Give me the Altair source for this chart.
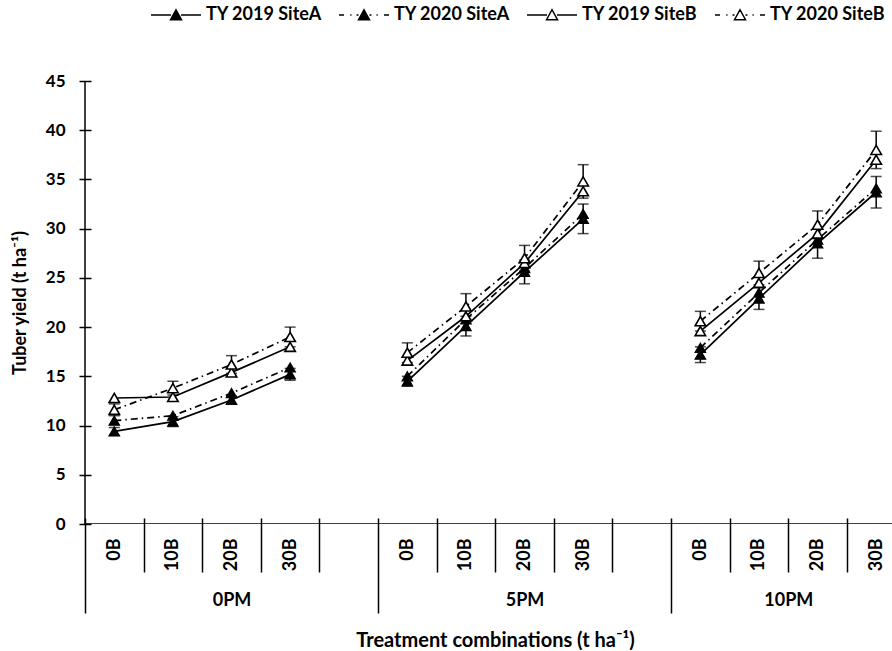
import altair as alt
import pandas as pd

FONT = "Lato"

series_names = ["TY 2019 SiteA", "TY 2020 SiteA", "TY 2019 SiteB", "TY 2020 SiteB"]
pm_levels = ["0PM", "5PM", "10PM"]
b_levels = ["0B", "10B", "20B", "30B"]

# Mean tuber yield (t/ha): 0PM (0B..30B), 5PM (0B..30B), 10PM (0B..30B)
ty2019_site_a = [9.4, 10.4, 12.6, 15.2, 14.5, 20.1, 25.6, 31.0, 17.2, 22.9, 28.5, 33.7]
ty2020_site_a = [10.5, 11.0, 13.3, 15.9, 15.0, 20.8, 26.0, 31.5, 17.9, 23.5, 28.9, 34.1]
ty2019_site_b = [12.8, 12.9, 15.4, 18.0, 16.6, 21.1, 26.5, 33.8, 19.6, 24.5, 29.5, 37.0]
ty2020_site_b = [11.6, 13.8, 16.2, 19.0, 17.4, 22.1, 27.0, 34.8, 20.6, 25.5, 30.4, 38.0]

# Error bar half-widths (t/ha), drawn for the outer two series
err_2019_site_a = [0.4, 0.5, 0.4, 0.6, 0.5, 1.0, 1.2, 1.5, 0.8, 1.1, 1.5, 1.6]
err_2020_site_b = [0.6, 0.7, 0.9, 1.0, 1.0, 1.3, 1.3, 1.7, 1.0, 1.2, 1.4, 1.9]

series_values = [ty2019_site_a, ty2020_site_a, ty2019_site_b, ty2020_site_b]
series_errors = [err_2019_site_a, None, None, err_2020_site_b]
series_filled = [True, True, False, False]
series_dashed = [False, True, False, True]

DASHDOT = [7, 4, 1.5, 4]

# Each P level gets one slot per B level plus an empty separating slot
slots_per_group = len(b_levels) + 1
n_b = len(b_levels)

rows = []
for name, vals, errs, filled, dashed in zip(series_names, series_values, series_errors,
                                             series_filled, series_dashed):
    for i, v in enumerate(vals):
        g, b = divmod(i, n_b)
        e = errs[i] if errs else None
        rows.append({
            "series": name,
            "pm": pm_levels[g],
            "b": b_levels[b],
            "slot": g * slots_per_group + b + 0.5,
            "value": v,
            "filled": filled,
            "dashed": dashed,
            "lo": v - e if e is not None else None,
            "hi": v + e if e is not None else None,
        })
df = pd.DataFrame(rows)

# Category-axis geometry (in slot units)
last_slot = len(pm_levels) * slots_per_group - 1
group_edges = [g * slots_per_group for g in range(len(pm_levels))]
inner_ticks = [g * slots_per_group + k for g in range(len(pm_levels))
               for k in range(1, slots_per_group) if g * slots_per_group + k < last_slot]
b_label_pos = [g * slots_per_group + b + 0.5 for g in range(len(pm_levels)) for b in range(n_b)]
pm_label_pos = [(g * slots_per_group + min((g + 1) * slots_per_group, last_slot)) / 2
                for g in range(len(pm_levels))]

b_expr = "[" + ",".join(f"'{s}'" for s in b_levels) + f",''][floor(datum.value) % {slots_per_group}]"
pm_expr = "''"
for g in range(len(pm_levels)):
    pm_expr = f"datum.value >= {g * slots_per_group} ? '{pm_levels[g]}' : ({pm_expr})"

xs = alt.Scale(domain=[0, 13.77], nice=False, zero=False)
ys = alt.Scale(domain=[0, 45], nice=False, zero=True)

common_x = dict(orient="bottom", domain=False, grid=False, labelFont=FONT,
                labelFontWeight="bold", labelFontSize=18, labelColor="black",
                tickColor="black", tickWidth=1.5, labelOverlap=False,
                labelFlush=False, labelBound=False)

ax_inner = alt.Axis(values=inner_ticks, labels=False, ticks=True, tickSize=54,
                    offset=-6, title=None, **common_x)
ax_outer = alt.Axis(values=group_edges, labels=False, ticks=True, tickSize=95,
                    offset=-6, title=None, **common_x)
ax_b = alt.Axis(values=b_label_pos, ticks=False, tickSize=0, labelExpr=b_expr,
                labelAngle=270, labelAlign="right", labelBaseline="middle",
                labelPadding=14, title=None, **common_x)
ax_pm = alt.Axis(values=pm_label_pos, ticks=False, tickSize=0, labelExpr=pm_expr,
                 labelAngle=0, labelAlign="center", labelBaseline="middle",
                 labelPadding=76, title="Treatment combinations (t ha⁻¹)",
                 titleFont=FONT, titleFontSize=20, titleFontWeight="bold",
                 titleColor="black", titleX=410, titleY=116,
                 titleBaseline="middle", titleAlign="center",
                 **common_x)

y_axis = alt.Axis(values=list(range(0, 46, 5)), tickSize=12, offset=-6,
                  domain=False, grid=False, tickColor="black", tickWidth=1.5,
                  labelPadding=14, labelFont=FONT, labelFontSize=17,
                  labelFontWeight="bold", labelColor="black",
                  title="Tuber yield (t ha⁻¹)", titleFont=FONT, titleFontSize=18,
                  titleFontWeight="bold", titleColor="black", titlePadding=16)

base = alt.Chart(df)

solid_lines = base.transform_filter("!datum.dashed").mark_line(
    color="black", strokeWidth=1.7, clip=True
).encode(
    x=alt.X("slot:Q", scale=xs, axis=ax_inner),
    y=alt.Y("value:Q", scale=ys, axis=y_axis),
    detail=["series:N", "pm:N"],
)

dashed_lines = base.transform_filter("datum.dashed").mark_line(
    color="black", strokeWidth=1.7, strokeDash=DASHDOT, clip=True
).encode(
    x=alt.X("slot:Q", scale=xs, axis=None),
    y=alt.Y("value:Q", scale=ys, axis=None),
    detail=["series:N", "pm:N"],
)

err_data = base.transform_filter("isValid(datum.lo)")

err_rules = err_data.mark_rule(color="black", strokeWidth=1.5, clip=True).encode(
    x=alt.X("slot:Q", scale=xs, axis=ax_outer),
    y=alt.Y("lo:Q", scale=ys, axis=None),
    y2="hi:Q",
)

err_caps = err_data.transform_fold(["lo", "hi"], as_=["end", "bound"]).mark_tick(
    color="black", orient="horizontal", size=11, thickness=1.5, clip=True
).encode(
    x=alt.X("slot:Q", scale=xs, axis=None),
    y=alt.Y("bound:Q", scale=ys, axis=None),
)

filled_pts = base.transform_filter("datum.filled").mark_point(
    shape="triangle-up", size=110, filled=True, fill="black", stroke="black",
    strokeWidth=1.2, opacity=1, clip=True
).encode(
    x=alt.X("slot:Q", scale=xs, axis=ax_b),
    y=alt.Y("value:Q", scale=ys, axis=None),
)

open_pts = base.transform_filter("!datum.filled").mark_point(
    shape="triangle-up", size=110, filled=True, fill="white", stroke="black",
    strokeWidth=1.6, opacity=1, clip=True
).encode(
    x=alt.X("slot:Q", scale=xs, axis=ax_pm),
    y=alt.Y("value:Q", scale=ys, axis=None),
)

# Axis lines
x_line = alt.Chart(pd.DataFrame({"a": [0]})).mark_rule(color="black", strokeWidth=1.5, clip=True).encode(
    x=alt.X(datum=0, scale=xs, axis=None),
    x2=alt.X2(datum=last_slot),
    y=alt.Y(datum=0, scale=ys, axis=None),
)
y_line = alt.Chart(pd.DataFrame({"a": [0]})).mark_rule(color="black", strokeWidth=1.5).encode(
    x=alt.X(datum=0, scale=xs, axis=None),
    y=alt.Y(datum=0, scale=ys, axis=None),
    y2=alt.Y2(datum=45),
)

# Legend: line-and-marker key symbols
tri = "M-0.22,0.19L0,-0.21L0.22,0.19Z"
solid_key = "M-1,0H-0.2M0.2,0H1" + tri
dash_key = "M-1,0H-0.8M-0.55,0H-0.5M-0.3,0H-0.22M0.22,0H0.3M0.5,0H0.55M0.8,0H1" + tri
legend_paths = [solid_key, dash_key, solid_key, dash_key]

legend_def = alt.Legend(
    orient="none", direction="horizontal", legendX=65, legendY=-92, title=None,
    symbolSize=2500, symbolStrokeWidth=1.5, symbolStrokeColor="black",
    labelFont=FONT, labelFontSize=18, labelFontWeight="bold", labelColor="black",
    labelOffset=4, columnPadding=14, padding=0, labelLimit=300,
)

legend_layer = base.transform_filter("false").mark_point(
    filled=True, strokeWidth=1.5, opacity=1
).encode(
    x=alt.X("slot:Q", scale=xs, axis=None),
    y=alt.Y("value:Q", scale=ys, axis=None),
    shape=alt.Shape("series:N", scale=alt.Scale(domain=series_names, range=legend_paths),
                    legend=legend_def),
    fill=alt.Fill("series:N", scale=alt.Scale(domain=series_names,
                  range=["black", "black", "white", "white"]), legend=legend_def),
    stroke=alt.Stroke("series:N", scale=alt.Scale(domain=series_names,
                      range=["black"] * len(series_names)), legend=legend_def),
)

chart = alt.layer(
    solid_lines, dashed_lines, err_rules, err_caps, filled_pts, open_pts,
    x_line, y_line, legend_layer
).resolve_axis(x="independent", y="independent").properties(
    width=807, height=443,
    autosize=alt.AutoSizeParams(type="none"),
    padding={"left": 85, "top": 81, "right": 0, "bottom": 127},
    background="white",
).configure_view(stroke=None)

chart.save("out.html", embed_options={"renderer": "svg", "actions": False})
